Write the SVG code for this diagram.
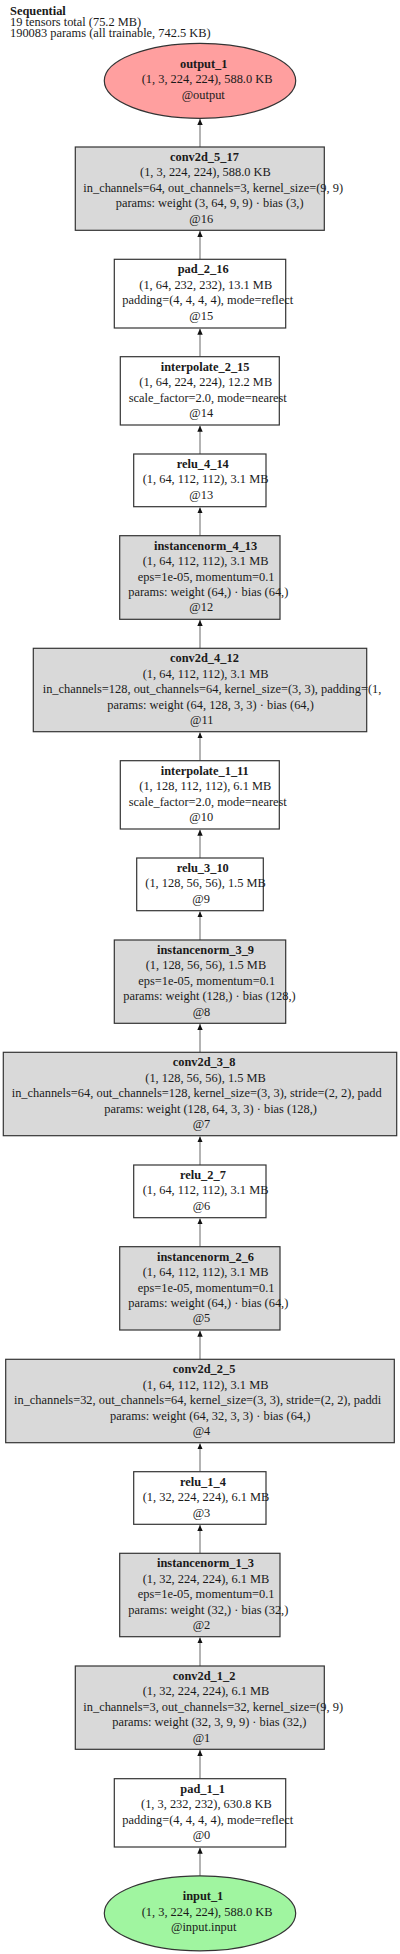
<svg xmlns="http://www.w3.org/2000/svg" width="400" height="1954" viewBox="0 0 400 1954">
<style>
text{font-family:"Liberation Serif","DejaVu Serif",serif;font-size:12.4px;fill:#1a1a1a}
.t{font-weight:bold}
.hd{font-size:12.4px}
.box{stroke:#333;stroke-width:1.2}
.w{fill:#ffffff}
.g{fill:#d9d9d9}
.e{stroke:#333;stroke-width:1.2}
.edge{stroke:#808080;stroke-width:1.2;fill:none;marker-end:url(#ah)}
</style>
<defs>
<marker id="ah" markerUnits="userSpaceOnUse" markerWidth="6" markerHeight="6" refX="6" refY="2.7" orient="auto"><path d="M0,0 L6,2.7 L0,5.4 z" fill="#111"/></marker>
</defs>
<rect width="400" height="1954" fill="#fff"/>
<g id="header">
<text x="10" y="14.5" class="t hd">Sequential</text>
<text x="10" y="25.9" class="hd">19 tensors total (75.2 MB)</text>
<text x="10" y="37" class="hd">190083 params (all trainable, 742.5 KB)</text>
</g>
<g id="edges">
<line class="edge" x1="200" y1="147" x2="200" y2="119"/>
<line class="edge" x1="200" y1="259.3" x2="200" y2="231"/>
<line class="edge" x1="200" y1="356.7" x2="200" y2="328.7"/>
<line class="edge" x1="200" y1="454" x2="200" y2="425.7"/>
<line class="edge" x1="200" y1="535.7" x2="200" y2="507.4"/>
<line class="edge" x1="200" y1="648.3" x2="200" y2="620"/>
<line class="edge" x1="200" y1="760.7" x2="200" y2="732.4"/>
<line class="edge" x1="200" y1="858" x2="200" y2="829.7"/>
<line class="edge" x1="200" y1="940" x2="200" y2="911.4"/>
<line class="edge" x1="200" y1="1052.3" x2="200" y2="1024"/>
<line class="edge" x1="200" y1="1165" x2="200" y2="1136.4"/>
<line class="edge" x1="200" y1="1246.7" x2="200" y2="1218.4"/>
<line class="edge" x1="200" y1="1359.3" x2="200" y2="1330.7"/>
<line class="edge" x1="200" y1="1471.7" x2="200" y2="1443.4"/>
<line class="edge" x1="200" y1="1553.3" x2="200" y2="1525"/>
<line class="edge" x1="200" y1="1666" x2="200" y2="1637.4"/>
<line class="edge" x1="200" y1="1778.7" x2="200" y2="1750"/>
<line class="edge" x1="200" y1="1876" x2="200" y2="1847.7"/>
</g>
<g id="output_1">
<ellipse class="e" cx="200" cy="80.8" rx="95.7" ry="37.5" fill="#ff9f9f"/>
<text x="180" y="67.7" class="t">output_1</text>
<text x="141.7" y="83.3">(1, 3, 224, 224), 588.0 KB</text>
<text x="181.7" y="99">@output</text>
</g>
<g id="conv2d_5_17">
<rect class="box g" x="75.3" y="147" width="249" height="83.3"/>
<text x="170" y="161" class="t">conv2d_5_17</text>
<text x="140" y="176.4">(1, 3, 224, 224), 588.0 KB</text>
<text x="83.3" y="191.8">in_channels=64, out_channels=3, kernel_size=(9, 9)</text>
<text x="115.7" y="207.2">params: weight (3, 64, 9, 9) · bias (3,)</text>
<text x="189.3" y="222.6">@16</text>
</g>
<g id="pad_2_16">
<rect class="box w" x="114.3" y="259.3" width="171.4" height="68.7"/>
<text x="177.7" y="273.3" class="t">pad_2_16</text>
<text x="139.3" y="288.7">(1, 64, 232, 232), 13.1 MB</text>
<text x="122.3" y="304.1">padding=(4, 4, 4, 4), mode=reflect</text>
<text x="189.3" y="319.5">@15</text>
</g>
<g id="interpolate_2_15">
<rect class="box w" x="120.3" y="356.7" width="159" height="68.3"/>
<text x="160.7" y="370.7" class="t">interpolate_2_15</text>
<text x="139.3" y="386.1">(1, 64, 224, 224), 12.2 MB</text>
<text x="128.7" y="401.5">scale_factor=2.0, mode=nearest</text>
<text x="189.3" y="416.9">@14</text>
</g>
<g id="relu_4_14">
<rect class="box w" x="133.7" y="454" width="132.3" height="52.7"/>
<text x="176.7" y="468" class="t">relu_4_14</text>
<text x="142.7" y="483.4">(1, 64, 112, 112), 3.1 MB</text>
<text x="189.3" y="498.8">@13</text>
</g>
<g id="instancenorm_4_13">
<rect class="box g" x="119.7" y="535.7" width="160.3" height="83.6"/>
<text x="154" y="549.7" class="t">instancenorm_4_13</text>
<text x="142.7" y="565.1">(1, 64, 112, 112), 3.1 MB</text>
<text x="137.7" y="580.5">eps=1e-05, momentum=0.1</text>
<text x="128.3" y="595.9">params: weight (64,) · bias (64,)</text>
<text x="189.3" y="611.3">@12</text>
</g>
<g id="conv2d_4_12">
<rect class="box g" x="33.3" y="648.3" width="333.4" height="83.4"/>
<text x="170" y="662.3" class="t">conv2d_4_12</text>
<text x="142.7" y="677.7">(1, 64, 112, 112), 3.1 MB</text>
<text x="42.7" y="693.1">in_channels=128, out_channels=64, kernel_size=(3, 3), padding=(1,</text>
<text x="107.3" y="708.5">params: weight (64, 128, 3, 3) · bias (64,)</text>
<text x="190" y="723.9">@11</text>
</g>
<g id="interpolate_1_11">
<rect class="box w" x="120.3" y="760.7" width="159" height="68.3"/>
<text x="160.7" y="774.7" class="t">interpolate_1_11</text>
<text x="139.3" y="790.1">(1, 128, 112, 112), 6.1 MB</text>
<text x="128.7" y="805.5">scale_factor=2.0, mode=nearest</text>
<text x="189.3" y="820.9">@10</text>
</g>
<g id="relu_3_10">
<rect class="box w" x="136.7" y="858" width="126.6" height="52.7"/>
<text x="176.7" y="872" class="t">relu_3_10</text>
<text x="145.3" y="887.4">(1, 128, 56, 56), 1.5 MB</text>
<text x="192.3" y="902.8">@9</text>
</g>
<g id="instancenorm_3_9">
<rect class="box g" x="114.3" y="940" width="171.4" height="83.3"/>
<text x="157" y="954" class="t">instancenorm_3_9</text>
<text x="145.7" y="969.4">(1, 128, 56, 56), 1.5 MB</text>
<text x="138.3" y="984.8">eps=1e-05, momentum=0.1</text>
<text x="123.3" y="1000.2">params: weight (128,) · bias (128,)</text>
<text x="192.7" y="1015.6">@8</text>
</g>
<g id="conv2d_3_8">
<rect class="box g" x="3.3" y="1052.3" width="393.4" height="83.4"/>
<text x="172.7" y="1066.3" class="t">conv2d_3_8</text>
<text x="145.3" y="1081.7">(1, 128, 56, 56), 1.5 MB</text>
<text x="11.7" y="1097.1">in_channels=64, out_channels=128, kernel_size=(3, 3), stride=(2, 2), padd</text>
<text x="104.3" y="1112.5">params: weight (128, 64, 3, 3) · bias (128,)</text>
<text x="192.7" y="1127.9">@7</text>
</g>
<g id="relu_2_7">
<rect class="box w" x="133.7" y="1165" width="132.3" height="52.7"/>
<text x="180" y="1179" class="t">relu_2_7</text>
<text x="142.7" y="1194.4">(1, 64, 112, 112), 3.1 MB</text>
<text x="192.7" y="1209.8">@6</text>
</g>
<g id="instancenorm_2_6">
<rect class="box g" x="119.7" y="1246.7" width="160.3" height="83.3"/>
<text x="157" y="1260.7" class="t">instancenorm_2_6</text>
<text x="142.7" y="1276.1">(1, 64, 112, 112), 3.1 MB</text>
<text x="137.7" y="1291.5">eps=1e-05, momentum=0.1</text>
<text x="128.3" y="1306.9">params: weight (64,) · bias (64,)</text>
<text x="192.7" y="1322.3">@5</text>
</g>
<g id="conv2d_2_5">
<rect class="box g" x="5.7" y="1359.3" width="388.6" height="83.4"/>
<text x="172.7" y="1373.3" class="t">conv2d_2_5</text>
<text x="142.7" y="1388.7">(1, 64, 112, 112), 3.1 MB</text>
<text x="14" y="1404.1">in_channels=32, out_channels=64, kernel_size=(3, 3), stride=(2, 2), paddi</text>
<text x="110" y="1419.5">params: weight (64, 32, 3, 3) · bias (64,)</text>
<text x="192.7" y="1434.9">@4</text>
</g>
<g id="relu_1_4">
<rect class="box w" x="133.7" y="1471.7" width="132.3" height="52.6"/>
<text x="180" y="1485.7" class="t">relu_1_4</text>
<text x="142.7" y="1501.1">(1, 32, 224, 224), 6.1 MB</text>
<text x="192.7" y="1516.5">@3</text>
</g>
<g id="instancenorm_1_3">
<rect class="box g" x="119.7" y="1553.3" width="160.3" height="83.4"/>
<text x="157" y="1567.3" class="t">instancenorm_1_3</text>
<text x="142.7" y="1582.7">(1, 32, 224, 224), 6.1 MB</text>
<text x="137.7" y="1598.1">eps=1e-05, momentum=0.1</text>
<text x="128.3" y="1613.5">params: weight (32,) · bias (32,)</text>
<text x="192.7" y="1628.9">@2</text>
</g>
<g id="conv2d_1_2">
<rect class="box g" x="75.3" y="1666" width="249" height="83.3"/>
<text x="172.7" y="1680" class="t">conv2d_1_2</text>
<text x="142.7" y="1695.4">(1, 32, 224, 224), 6.1 MB</text>
<text x="83.3" y="1710.8">in_channels=3, out_channels=32, kernel_size=(9, 9)</text>
<text x="112.3" y="1726.2">params: weight (32, 3, 9, 9) · bias (32,)</text>
<text x="192.7" y="1741.6">@1</text>
</g>
<g id="pad_1_1">
<rect class="box w" x="114.3" y="1778.7" width="171.4" height="68.3"/>
<text x="180.3" y="1792.7" class="t">pad_1_1</text>
<text x="141" y="1808.1">(1, 3, 232, 232), 630.8 KB</text>
<text x="122.3" y="1823.5">padding=(4, 4, 4, 4), mode=reflect</text>
<text x="192.7" y="1838.9">@0</text>
</g>
<g id="input_1">
<ellipse class="e" cx="200" cy="1913.3" rx="95.7" ry="37.5" fill="#a0f5a0"/>
<text x="182.7" y="1900" class="t">input_1</text>
<text x="141.7" y="1915.5">(1, 3, 224, 224), 588.0 KB</text>
<text x="171" y="1931">@input.input</text>
</g>
</svg>
